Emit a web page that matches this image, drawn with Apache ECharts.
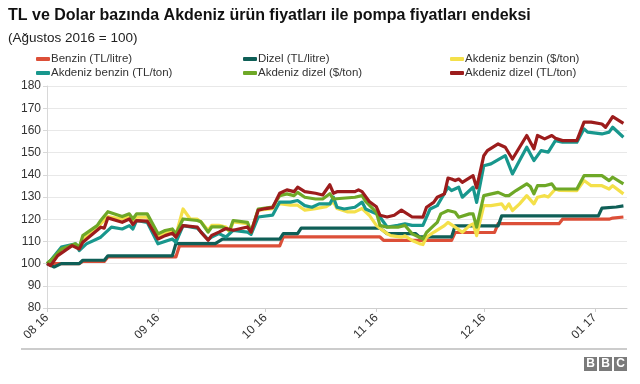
<!DOCTYPE html>
<html>
<head>
<meta charset="utf-8">
<script src="https://cdn.jsdelivr.net/npm/echarts@6/dist/echarts.min.js"></script>
<style>
html,body{margin:0;padding:0;background:#fff;}
#c{width:640px;height:384px;}
</style>
</head>
<body>
<div id="c"></div>
<script>
var titleText = 'TL ve Dolar bazında Akdeniz ürün fiyatları ile pompa fiyatları endeksi';
var subtitleText = '(Ağustos 2016 = 100)';
var seriesNames = ['Benzin (TL/litre)', 'Dizel (TL/litre)', 'Akdeniz benzin ($/ton)', 'Akdeniz benzin (TL/ton)', 'Akdeniz dizel ($/ton)', 'Akdeniz dizel (TL/ton)'];
var yTicks = [80, 90, 100, 110, 120, 130, 140, 150, 160, 170, 180];
var xRange = ['2016-08-01', '2017-01-10'];

var benzinTL = [
  ['2016-08-01',100],['2016-08-10',100],['2016-08-11',101],['2016-08-17',101],['2016-08-18',103],
  ['2016-09-06',103],['2016-09-07',108],['2016-10-05',108],['2016-10-06',112],['2016-11-02',112],
  ['2016-11-03',110.5],['2016-11-22',110.5],['2016-11-23',114],['2016-12-04',114],['2016-12-05',118],
  ['2016-12-22',118],['2016-12-23',120],['2017-01-05',120],['2017-01-06',120.5],['2017-01-09',121]
];
var dizelTL = [
  ['2016-08-01',100],['2016-08-03',98.5],['2016-08-05',100],['2016-08-10',100],['2016-08-11',101.5],
  ['2016-08-17',101.5],['2016-08-18',103.5],['2016-09-05',103.5],['2016-09-06',109],['2016-09-17',109],
  ['2016-09-19',111],['2016-10-05',111],['2016-10-06',113.5],['2016-10-10',113.5],['2016-10-11',116],
  ['2016-11-02',116],['2016-11-04',113.5],['2016-11-12',113.5],['2016-11-13',112],['2016-11-22',112],
  ['2016-11-23',117],['2016-12-05',117],['2016-12-06',121.5],['2017-01-02',121.5],['2017-01-03',125],
  ['2017-01-07',125.5],['2017-01-09',126]
];
var akdBenzinUSD = [
  ['2016-08-01',100],['2016-08-03',102.5],['2016-08-05',106],['2016-08-09',108.7],['2016-08-10',106.8],
  ['2016-08-11',111],['2016-08-15',115.6],['2016-08-16',117.9],['2016-08-18',121.2],['2016-08-22',120.1],
  ['2016-08-24',121.5],['2016-08-25',119.5],['2016-08-26',120.9],['2016-08-29',120.9],['2016-09-01',112.6],
  ['2016-09-05',114.9],['2016-09-06',112.8],['2016-09-08',124.6],['2016-09-10',120.1],['2016-09-12',120],
  ['2016-09-13',118.8],['2016-09-15',115],['2016-09-16',117.2],['2016-09-18',117.2],['2016-09-20',116.5],
  ['2016-09-21',114.2],['2016-09-22',118.8],['2016-09-26',118],['2016-09-27',114.2],['2016-09-29',124.1],
  ['2016-10-03',124.8],['2016-10-05',127],['2016-10-08',126.3],['2016-10-10',126.3],['2016-10-12',124.1],
  ['2016-10-15',124.8],['2016-10-18',125.6],['2016-10-20',127.8],['2016-10-21',124.8],['2016-10-24',123.3],
  ['2016-10-26',123.3],['2016-10-28',124.8],['2016-10-30',121.8],['2016-11-01',117.2],['2016-11-04',113.5],
  ['2016-11-05',112.6],['2016-11-08',111.9],['2016-11-09',112.5],['2016-11-11',110.4],['2016-11-13',109],
  ['2016-11-14',108.6],['2016-11-15',111.9],['2016-11-17',114.1],['2016-11-20',117.1],['2016-11-21',118.6],
  ['2016-11-23',116.4],['2016-11-25',114.1],['2016-11-27',117.1],['2016-11-28',117.9],['2016-11-29',112.6],
  ['2016-12-01',126.1],['2016-12-03',126.1],['2016-12-06',126.9],['2016-12-07',124.6],['2016-12-08',126.9],
  ['2016-12-09',123.9],['2016-12-11',126.9],['2016-12-13',130.6],['2016-12-15',126.9],['2016-12-16',129.9],
  ['2016-12-18',130.6],['2016-12-19',130],['2016-12-21',133.6],['2016-12-22',133],['2016-12-27',132.9],
  ['2016-12-29',137.4],['2016-12-31',135.1],['2017-01-03',135.1],['2017-01-05',133.6],['2017-01-06',135.1],
  ['2017-01-09',131.4]
];
var akdBenzinTL = [
  ['2016-08-01',100],['2016-08-02',101.4],['2016-08-05',107.4],['2016-08-09',108.9],['2016-08-10',105.9],
  ['2016-08-12',108.9],['2016-08-16',111.9],['2016-08-19',116.4],['2016-08-22',115.6],['2016-08-24',117.1],
  ['2016-08-25',115.6],['2016-08-26',119.4],['2016-08-29',118.6],['2016-09-01',108.9],['2016-09-05',111.1],
  ['2016-09-06',109.6],['2016-09-08',117.1],['2016-09-12',116],['2016-09-15',110.8],['2016-09-16',112],
  ['2016-09-18',113.5],['2016-09-20',112],['2016-09-22',115],['2016-09-26',114.2],['2016-09-27',113.2],
  ['2016-09-29',121],['2016-10-03',121.8],['2016-10-05',127.7],['2016-10-08',127.7],['2016-10-10',128.4],
  ['2016-10-12',126.1],['2016-10-14',125.4],['2016-10-16',126.9],['2016-10-19',126.9],['2016-10-20',129.9],
  ['2016-10-21',125.4],['2016-10-23',124.6],['2016-10-26',125.4],['2016-10-28',127.7],['2016-10-29',124.6],
  ['2016-11-01',122.4],['2016-11-02',121],['2016-11-04',116.5],['2016-11-07',117.2],['2016-11-09',117.9],
  ['2016-11-11',117.2],['2016-11-14',117.2],['2016-11-16',124.6],['2016-11-18',126.1],['2016-11-21',134.4],
  ['2016-11-22',132.9],['2016-11-24',134.4],['2016-11-25',129.9],['2016-11-28',134.4],['2016-11-29',127.6],
  ['2016-12-01',144.1],['2016-12-03',144.9],['2016-12-07',148.6],['2016-12-09',140.4],['2016-12-11',146.4],
  ['2016-12-13',152.4],['2016-12-15',146.4],['2016-12-17',150.9],['2016-12-19',150.2],['2016-12-21',155.4],
  ['2016-12-23',154.7],['2016-12-27',154.7],['2016-12-29',160.7],['2016-12-30',159.2],['2017-01-03',158.4],
  ['2017-01-05',159.2],['2017-01-06',161.4],['2017-01-09',156.9]
];
var akdDizelUSD = [
  ['2016-08-01',100],['2016-08-03',102.9],['2016-08-05',106.6],['2016-08-09',108.9],['2016-08-10',107.4],
  ['2016-08-11',112.6],['2016-08-15',117.1],['2016-08-16',119.4],['2016-08-18',123.4],['2016-08-22',121.2],
  ['2016-08-24',122.4],['2016-08-25',120.1],['2016-08-26',122.4],['2016-08-29',122.4],['2016-09-01',113.4],
  ['2016-09-03',114.9],['2016-09-05',115.6],['2016-09-06',113.4],['2016-09-08',120.1],['2016-09-12',119.4],
  ['2016-09-13',118.8],['2016-09-15',114.2],['2016-09-16',116.5],['2016-09-19',116.5],['2016-09-21',115],
  ['2016-09-22',119.4],['2016-09-26',118.6],['2016-09-27',114.1],['2016-09-29',124.6],['2016-10-03',125.4],
  ['2016-10-05',130.6],['2016-10-07',131.4],['2016-10-09',130.6],['2016-10-10',132.1],['2016-10-12',129.9],
  ['2016-10-15',129.1],['2016-10-17',129.1],['2016-10-19',131.5],['2016-10-20',129.1],['2016-10-26',129.9],
  ['2016-10-28',130.6],['2016-10-29',128],['2016-11-01',123.1],['2016-11-02',117.2],['2016-11-04',116.4],
  ['2016-11-07',116.4],['2016-11-09',117.2],['2016-11-11',113.4],['2016-11-13',111.9],['2016-11-14',111.1],
  ['2016-11-15',114],['2016-11-17',117.1],['2016-11-18',118.6],['2016-11-19',122.4],['2016-11-21',123.9],
  ['2016-11-23',123.1],['2016-11-24',120.9],['2016-11-27',122.4],['2016-11-28',122.4],['2016-11-29',116.4],
  ['2016-12-01',130.6],['2016-12-05',132.1],['2016-12-07',130.6],['2016-12-08',130.6],['2016-12-10',132.9],
  ['2016-12-13',135.9],['2016-12-14',134.7],['2016-12-15',131.4],['2016-12-16',135.1],['2016-12-18',135.1],
  ['2016-12-20',135.9],['2016-12-21',133.6],['2016-12-27',133.6],['2016-12-29',139.6],['2017-01-03',139.6],
  ['2017-01-05',137.4],['2017-01-06',138.9],['2017-01-09',135.9]
];
var akdDizelTL = [
  ['2016-08-01',100],['2016-08-02',99.1],['2016-08-04',103.6],['2016-08-08',108.1],['2016-08-10',106.6],
  ['2016-08-11',109.6],['2016-08-16',116.4],['2016-08-17',116],['2016-08-18',120.6],['2016-08-22',118.6],
  ['2016-08-24',120.1],['2016-08-25',117.6],['2016-08-26',119.4],['2016-08-29',119.1],['2016-09-01',111.1],
  ['2016-09-03',112.6],['2016-09-05',113.7],['2016-09-06',111.9],['2016-09-08',117.1],['2016-09-12',116.4],
  ['2016-09-13',114.2],['2016-09-15',110.5],['2016-09-16',112.7],['2016-09-18',114.2],['2016-09-20',115.8],
  ['2016-09-22',115],['2016-09-26',116.5],['2016-09-27',114.2],['2016-09-29',124],['2016-10-01',124.8],
  ['2016-10-03',125.2],['2016-10-05',131.7],['2016-10-07',133.2],['2016-10-09',132.4],['2016-10-10',134.4],
  ['2016-10-12',132.4],['2016-10-15',131.7],['2016-10-17',130.9],['2016-10-19',135.5],['2016-10-20',131.7],
  ['2016-10-21',132.4],['2016-10-26',132.4],['2016-10-27',133.2],['2016-10-28',132.4],['2016-10-30',128],
  ['2016-11-01',125.6],['2016-11-02',121.8],['2016-11-04',121],['2016-11-06',121.8],['2016-11-08',124.1],
  ['2016-11-11',121],['2016-11-14',120.9],['2016-11-15',125.4],['2016-11-17',127.6],['2016-11-18',129.9],
  ['2016-11-20',131.4],['2016-11-21',138.5],['2016-11-22',138.1],['2016-11-23',137.4],['2016-11-24',138.1],
  ['2016-11-25',136.6],['2016-11-28',139.6],['2016-11-29',134.1],['2016-12-01',148.6],['2016-12-02',150.9],
  ['2016-12-05',153.9],['2016-12-07',152.4],['2016-12-09',147.1],['2016-12-11',152.4],['2016-12-13',157.7],
  ['2016-12-15',151.7],['2016-12-16',157.7],['2016-12-18',156.2],['2016-12-20',157.7],['2016-12-21',156.5],
  ['2016-12-23',155.4],['2016-12-27',155.4],['2016-12-29',163.7],['2016-12-31',163.7],['2017-01-03',162.9],
  ['2017-01-04',161.4],['2017-01-05',163.7],['2017-01-06',166.2],['2017-01-07',165.2],['2017-01-09',163.2]
];

var seriesData = [benzinTL, dizelTL, akdBenzinUSD, akdBenzinTL, akdDizelUSD, akdDizelTL];
var colors = ['#dc4f38', '#0f5f57', '#f4e04a', '#18978d', '#6ea827', '#9c1c1c'];
var FONT = 'Liberation Sans, Arial, sans-serif';

var legendPos = [[36, 53], [243, 53], [450, 53], [36, 67], [243, 67], [450, 67]];
var legends = seriesNames.map(function (n, i) {
  return {
    data: [n], left: legendPos[i][0], top: legendPos[i][1], padding: 0,
    icon: 'roundRect', itemWidth: 14, itemHeight: 4, itemGap: 0,
    textStyle: { fontFamily: FONT, fontSize: 11.5, color: '#333', padding: [0, 0, 0, -4] }
  };
});

var chart = echarts.init(document.getElementById('c'), null, { renderer: 'canvas' });
chart.setOption({
  animation: false,
  color: colors,
  title: [
    { text: titleText, left: 8, top: 8, padding: 0, textStyle: { fontFamily: FONT, fontSize: 16, fontWeight: 'bold', color: '#111' } },
    { text: subtitleText, left: 8, top: 31, padding: 0, textStyle: { fontFamily: FONT, fontSize: 13.5, fontWeight: 'normal', color: '#222' } }
  ],
  legend: legends,
  grid: { left: 47, right: 13, top: 86, bottom: 76, containLabel: false },
  xAxis: {
    type: 'time', min: xRange[0], max: xRange[1],
    splitNumber: 6,
    axisLine: { show: true, lineStyle: { color: '#cfcfcf', width: 1 } },
    axisTick: { show: true, length: 4, lineStyle: { color: '#cfcfcf' } },
    splitLine: { show: false },
    axisLabel: { rotate: 45, fontFamily: FONT, fontSize: 12, color: '#333', margin: 8, formatter: '{MM} {yy}', showMinLabel: true }
  },
  yAxis: {
    type: 'value', min: yTicks[0], max: yTicks[yTicks.length - 1], interval: 10,
    axisLine: { show: true, lineStyle: { color: '#d8d8d8' } },
    axisTick: { show: true, length: 4, lineStyle: { color: '#d8d8d8' } },
    splitLine: { show: true, lineStyle: { color: '#e8e8e8', width: 1 } },
    axisLabel: { fontFamily: FONT, fontSize: 12, color: '#333', margin: 6 }
  },
  graphic: [
    { type: 'line', shape: { x1: 21, y1: 349, x2: 627, y2: 349 }, style: { stroke: '#cccccc', lineWidth: 2 } },
    { type: 'rect', shape: { x: 584, y: 357, width: 13, height: 14 }, style: { fill: '#7a7a7a' } },
    { type: 'rect', shape: { x: 599, y: 357, width: 13, height: 14 }, style: { fill: '#7a7a7a' } },
    { type: 'rect', shape: { x: 614, y: 357, width: 13, height: 14 }, style: { fill: '#7a7a7a' } },
    { type: 'text', x: 590.5, y: 364, style: { text: 'B', fill: '#fff', font: 'bold 12px Liberation Sans', align: 'center', verticalAlign: 'middle' } },
    { type: 'text', x: 605.5, y: 364, style: { text: 'B', fill: '#fff', font: 'bold 12px Liberation Sans', align: 'center', verticalAlign: 'middle' } },
    { type: 'text', x: 620.5, y: 364, style: { text: 'C', fill: '#fff', font: 'bold 12px Liberation Sans', align: 'center', verticalAlign: 'middle' } }
  ],
  series: seriesNames.map(function (n, i) {
    return {
      name: n, type: 'line', data: seriesData[i], showSymbol: false, symbol: 'none',
      lineStyle: { width: 3.2, color: colors[i], join: 'round' },
      itemStyle: { color: colors[i] },
      z: 2 + i
    };
  })
});
</script>
</body>
</html>
